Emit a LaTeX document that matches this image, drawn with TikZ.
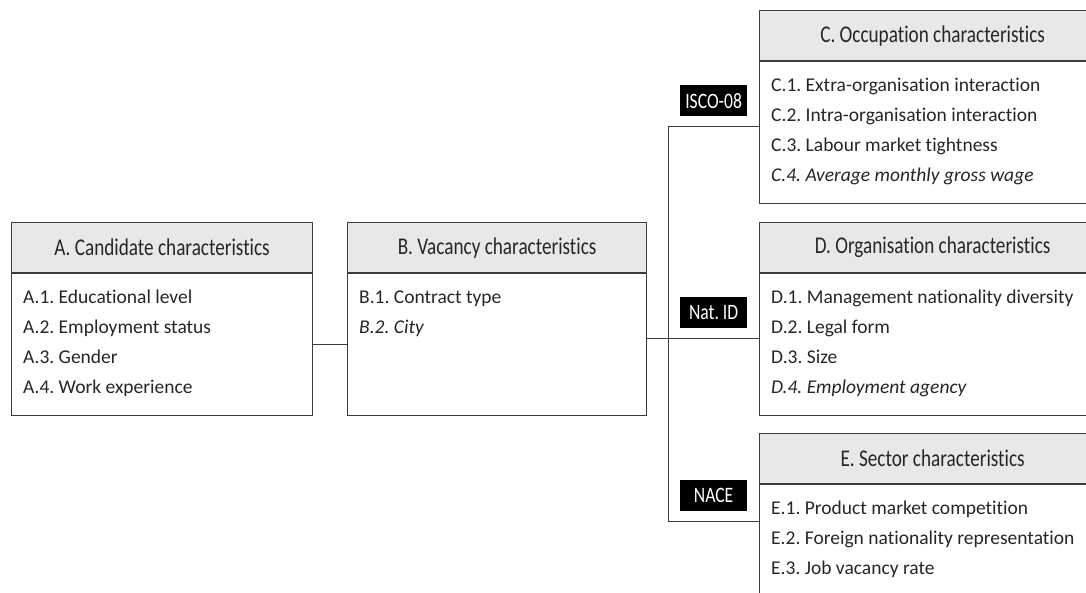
\documentclass[tikz,border=0pt]{standalone}
\usepackage{fontspec}
\setmainfont[Ligatures=CommonOff]{Carlito}
\newfontfamily\headfont[FakeStretch=0.8, Ligatures=CommonOff]{Carlito}
\usepackage{tikz}
\usetikzlibrary{positioning}
\frenchspacing
\definecolor{boxline}{HTML}{3C3C3C}
\definecolor{headfill}{HTML}{E8E8E8}
\definecolor{inktext}{HTML}{262626}
\tikzset{
  head/.style={draw=boxline, line width=1.2pt, fill=headfill, anchor=north west, minimum height=50pt, inner sep=0pt, text=inktext, font=\headfont\fontsize{24}{28}\selectfont},
  body/.style={draw=boxline, line width=1.2pt, fill=white, minimum height=142pt, inner sep=0pt},
  items/.style={anchor=north west, align=left, inner xsep=12pt, inner ysep=17pt, text=inktext, font=\fontsize{19.5}{30}\selectfont, execute at begin node=\strut},
  tag/.style={fill=black, text=white, minimum width=67pt, minimum height=31pt, inner sep=0pt, font=\headfont\fontsize{22}{24}\selectfont},
  link/.style={draw=boxline, line width=1pt}
}
\begin{document}
\begin{tikzpicture}[x=1pt, y=-1pt]
  \useasboundingbox[fill=white] (0,0) rectangle (1086,592);
  \clip (0,0) rectangle (1086,592);
  % candidate and vacancy
  \node[head, minimum width=301pt] (Ahead) at (11,222) {A. Candidate characteristics};
  \node[body, minimum width=301pt, below=0pt of Ahead] (Abody) {};
  \node[items] (Aitems) at (Abody.north west) {A.1. Educational level\\A.2. Employment status\\A.3. Gender\\A.4. Work experience};
  \node[head, minimum width=299pt] (Bhead) at (347,222) {B. Vacancy characteristics};
  \node[body, minimum width=299pt, below=0pt of Bhead] (Bbody) {};
  \node[items] (Bitems) at (Bbody.north west) {B.1. Contract type\\\textit{B.2. City}};
  % linked characteristics
  \node[head, minimum width=346pt] (Chead) at (759,10) {C. Occupation characteristics};
  \node[body, minimum width=346pt, below=0pt of Chead] (Cbody) {};
  \node[items] (Citems) at (Cbody.north west) {C.1. Extra-organisation interaction\\C.2. Intra-organisation interaction\\C.3. Labour market tightness\\\textit{C.4. Average monthly gross wage}};
  \node[head, minimum width=346pt] (Dhead) at (759,222) {D. Organisation characteristics};
  \node[body, minimum width=346pt, below=0pt of Dhead] (Dbody) {};
  \node[items] (Ditems) at (Dbody.north west) {D.1. Management nationality diversity\\D.2. Legal form\\D.3. Size\\\textit{D.4. Employment agency}};
  \node[head, minimum width=346pt] (Ehead) at (759,433) {E. Sector characteristics};
  \node[body, minimum width=346pt, below=0pt of Ehead] (Ebody) {};
  \node[items] (Eitems) at (Ebody.north west) {E.1. Product market competition\\E.2. Foreign nationality representation\\E.3. Job vacancy rate};
  % connectors
  \coordinate (hub) at ([xshift=21pt, yshift=6pt]Bbody.east);
  \draw[link] (Abody) -- (Bbody);
  \draw[link] ([yshift=6pt]Bbody.east) -- (hub);
  \draw[link] (hub) -- node[tag, above=10pt] {Nat. ID} ([yshift=6pt]Dbody.west);
  \draw[link] (hub) |- node[tag, pos=0.75, above=10pt] {ISCO-08} ([yshift=6pt]Cbody.west);
  \draw[link] (hub) |- node[tag, pos=0.75, above=10pt] {NACE} ([yshift=-37pt]Ebody.north west);
\end{tikzpicture}
\end{document}
